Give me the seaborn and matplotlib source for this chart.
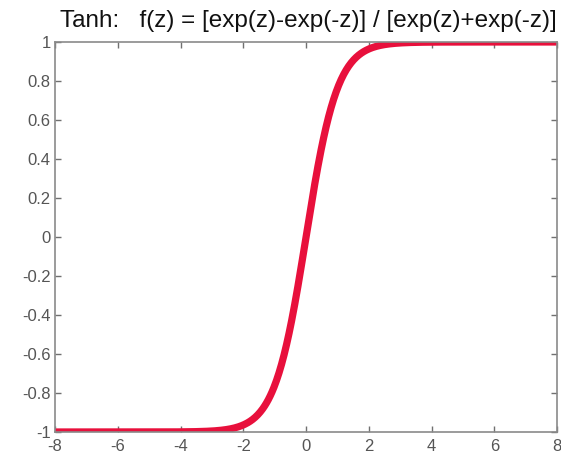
import numpy as np
import pandas as pd
import matplotlib
matplotlib.use("Agg")
import matplotlib.pyplot as plt
import seaborn as sns

# Function domain and the tanh curve given in the title formula
z = np.linspace(-8, 8, 801)
fz = (np.exp(z) - np.exp(-z)) / (np.exp(z) + np.exp(-z))

x_ticks = [-8, -6, -4, -2, 0, 2, 4, 6, 8]
y_ticks = [-1, -0.8, -0.6, -0.4, -0.2, 0, 0.2, 0.4, 0.6, 0.8, 1]
y_tick_labels = ["-1", "-0.8", "-0.6", "-0.4", "-0.2", "0", "0.2", "0.4", "0.6", "0.8", "1"]
title = "Tanh:   f(z) = [exp(z)-exp(-z)] / [exp(z)+exp(-z)]"

df = pd.DataFrame({"z": z, "f": fz})

sns.set_style("ticks")
plt.rcParams["font.family"] = ["Liberation Sans", "DejaVu Sans"]

fig = plt.figure(figsize=(5.61, 4.54), dpi=100)
ax = fig.add_axes([0.098, 0.0485, 0.895, 0.859])

sns.lineplot(data=df, x="z", y="f", ax=ax, color="#e8103c", linewidth=5.2)

ax.set_xlim(-8, 8)
ax.set_ylim(-1, 1)
ax.set_xticks(x_ticks)
ax.set_xticklabels([str(t) for t in x_ticks])
ax.set_yticks(y_ticks)
ax.set_yticklabels(y_tick_labels)
ax.set_xlabel("")
ax.set_ylabel("")

for side in ["top", "right", "left", "bottom"]:
    ax.spines[side].set_visible(True)
    ax.spines[side].set_color("#8a8a8a")
    ax.spines[side].set_linewidth(1.2)

ax.tick_params(axis="both", direction="in", length=4, width=1, color="#707070",
               labelsize=12, labelcolor="#555555", top=True, right=True, pad=3)
ax.tick_params(axis="x", pad=5)

ax.set_title(title, fontsize=17.5, color="#111111", pad=11, x=0.505)

fig.savefig("out.png", dpi=100)
